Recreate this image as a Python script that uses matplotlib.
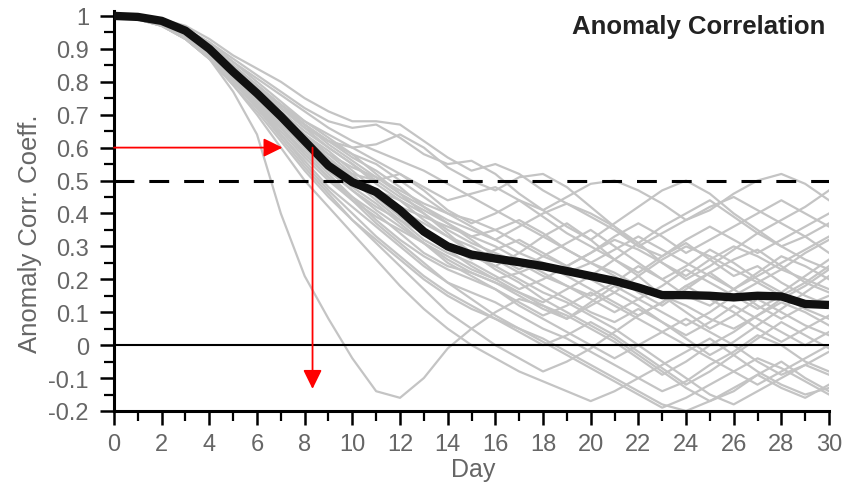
import numpy as np
import matplotlib.pyplot as plt

plt.rcParams['font.family'] = ['Liberation Sans', 'DejaVu Sans']

days = list(range(31))

# ensemble-mean anomaly correlation (thick black curve)
mean_acc = [1.00, 0.997, 0.985, 0.955, 0.90, 0.83, 0.765, 0.695, 0.62, 0.545,
            0.495, 0.465, 0.41, 0.345, 0.30, 0.275, 0.263, 0.252, 0.24, 0.225,
            0.21, 0.195, 0.175, 0.152, 0.152, 0.15, 0.145, 0.15, 0.148, 0.125,
            0.122]

# individual forecasts (thin grey curves)
member_acc = [
    [1.00, 1.00, 0.99, 0.97, 0.93, 0.88, 0.84, 0.80, 0.75, 0.71, 0.68, 0.68, 0.67, 0.62, 0.57, 0.53,
     0.55, 0.52, 0.47, 0.43, 0.40, 0.36, 0.30, 0.27, 0.31, 0.26, 0.21, 0.24, 0.19, 0.15, 0.12],
    [1.00, 1.00, 0.99, 0.96, 0.92, 0.87, 0.82, 0.77, 0.72, 0.68, 0.66, 0.67, 0.63, 0.58, 0.55, 0.56,
     0.52, 0.46, 0.41, 0.45, 0.49, 0.50, 0.47, 0.43, 0.38, 0.41, 0.46, 0.50, 0.52, 0.49, 0.44],
    [1.00, 0.99, 0.98, 0.95, 0.90, 0.84, 0.78, 0.72, 0.66, 0.62, 0.60, 0.61, 0.64, 0.60, 0.54, 0.50,
     0.47, 0.51, 0.52, 0.48, 0.42, 0.36, 0.31, 0.25, 0.20, 0.24, 0.29, 0.34, 0.38, 0.42, 0.47],
    [1.00, 0.99, 0.98, 0.95, 0.90, 0.84, 0.77, 0.70, 0.63, 0.56, 0.52, 0.50, 0.52, 0.47, 0.41, 0.37,
     0.40, 0.44, 0.41, 0.36, 0.32, 0.37, 0.42, 0.47, 0.50, 0.46, 0.40, 0.35, 0.30, 0.33, 0.28],
    [1.00, 0.99, 0.98, 0.95, 0.90, 0.83, 0.76, 0.69, 0.62, 0.56, 0.50, 0.46, 0.42, 0.39, 0.36, 0.33,
     0.30, 0.26, 0.22, 0.18, 0.15, 0.19, 0.24, 0.20, 0.15, 0.12, 0.17, 0.22, 0.27, 0.24, 0.20],
    [1.00, 0.99, 0.98, 0.95, 0.89, 0.82, 0.75, 0.68, 0.60, 0.53, 0.47, 0.42, 0.38, 0.34, 0.30, 0.27,
     0.24, 0.28, 0.33, 0.37, 0.32, 0.26, 0.21, 0.15, 0.10, 0.05, 0.09, 0.14, 0.10, 0.06, 0.03],
    [1.00, 0.99, 0.98, 0.94, 0.89, 0.82, 0.74, 0.66, 0.58, 0.51, 0.45, 0.40, 0.34, 0.28, 0.24, 0.22,
     0.19, 0.15, 0.11, 0.08, 0.12, 0.16, 0.12, 0.07, 0.02, -0.03, 0.01, 0.06, 0.11, 0.16, 0.21],
    [1.00, 0.99, 0.98, 0.94, 0.88, 0.81, 0.73, 0.64, 0.56, 0.48, 0.42, 0.36, 0.30, 0.24, 0.19, 0.16,
     0.13, 0.09, 0.05, 0.02, -0.02, -0.06, -0.10, -0.14, -0.11, -0.06, -0.02, 0.03, 0.00, -0.05, -0.08],
    [1.00, 0.99, 0.97, 0.94, 0.88, 0.80, 0.72, 0.63, 0.54, 0.46, 0.38, 0.31, 0.24, 0.17, 0.10, 0.05,
     0.00, -0.04, -0.08, -0.05, -0.01, 0.04, 0.09, 0.13, 0.18, 0.22, 0.17, 0.12, 0.08, 0.12, 0.15],
    [1.00, 0.99, 0.97, 0.93, 0.87, 0.79, 0.70, 0.60, 0.50, 0.42, 0.34, 0.26, 0.18, 0.11, 0.05, 0.00,
     -0.04, -0.08, -0.11, -0.14, -0.17, -0.14, -0.10, -0.06, -0.02, 0.02, -0.03, -0.08, -0.12, -0.15, -0.13],
    [1.00, 0.99, 0.98, 0.95, 0.90, 0.84, 0.78, 0.72, 0.67, 0.62, 0.57, 0.53, 0.48, 0.42, 0.37, 0.33,
     0.35, 0.38, 0.34, 0.29, 0.25, 0.21, 0.16, 0.12, 0.17, 0.22, 0.26, 0.29, 0.24, 0.19, 0.16],
    [1.00, 1.00, 0.99, 0.96, 0.92, 0.86, 0.80, 0.74, 0.68, 0.63, 0.58, 0.52, 0.46, 0.40, 0.34, 0.28,
     0.23, 0.19, 0.14, 0.10, 0.06, 0.02, -0.03, -0.08, -0.13, -0.17, -0.14, -0.09, -0.05, -0.10, -0.14],
    [1.00, 0.99, 0.98, 0.95, 0.90, 0.83, 0.76, 0.69, 0.63, 0.58, 0.54, 0.51, 0.47, 0.43, 0.40, 0.38,
     0.35, 0.31, 0.27, 0.24, 0.28, 0.32, 0.29, 0.25, 0.21, 0.26, 0.30, 0.27, 0.23, 0.28, 0.32],
    [1.00, 0.99, 0.98, 0.94, 0.88, 0.81, 0.73, 0.65, 0.57, 0.50, 0.44, 0.39, 0.35, 0.31, 0.27, 0.23,
     0.20, 0.22, 0.25, 0.21, 0.17, 0.13, 0.09, 0.13, 0.18, 0.14, 0.10, 0.05, 0.01, 0.05, 0.09],
    [1.00, 0.99, 0.97, 0.93, 0.87, 0.79, 0.71, 0.62, 0.53, 0.45, 0.38, 0.32, 0.26, 0.20, 0.15, 0.11,
     0.08, 0.04, 0.00, 0.03, 0.07, 0.03, -0.02, -0.07, -0.12, -0.08, -0.03, 0.02, 0.07, 0.03, -0.01],
    [1.00, 0.99, 0.98, 0.95, 0.90, 0.84, 0.77, 0.71, 0.65, 0.60, 0.55, 0.49, 0.44, 0.38, 0.33, 0.28,
     0.24, 0.20, 0.16, 0.13, 0.09, 0.05, 0.00, -0.05, -0.10, -0.15, -0.18, -0.14, -0.10, -0.06, -0.09],
    [1.00, 0.99, 0.98, 0.95, 0.90, 0.84, 0.77, 0.70, 0.64, 0.59, 0.53, 0.47, 0.41, 0.35, 0.29, 0.24,
     0.20, 0.16, 0.13, 0.17, 0.21, 0.26, 0.31, 0.36, 0.40, 0.44, 0.39, 0.34, 0.30, 0.26, 0.23],
    [1.00, 0.99, 0.98, 0.94, 0.89, 0.82, 0.74, 0.66, 0.58, 0.51, 0.44, 0.37, 0.31, 0.25, 0.19, 0.14,
     0.09, 0.05, 0.01, -0.03, -0.07, -0.11, -0.15, -0.19, -0.16, -0.12, -0.08, -0.04, -0.07, -0.11, -0.15],
    [1.00, 0.99, 0.98, 0.95, 0.89, 0.83, 0.76, 0.69, 0.62, 0.56, 0.51, 0.47, 0.44, 0.40, 0.35, 0.31,
     0.28, 0.25, 0.21, 0.18, 0.14, 0.10, 0.14, 0.18, 0.23, 0.19, 0.15, 0.11, 0.15, 0.19, 0.24],
    [1.00, 1.00, 0.99, 0.96, 0.91, 0.86, 0.81, 0.76, 0.71, 0.66, 0.62, 0.59, 0.56, 0.53, 0.49, 0.45,
     0.41, 0.37, 0.33, 0.29, 0.25, 0.22, 0.18, 0.15, 0.12, 0.08, 0.05, 0.09, 0.14, 0.18, 0.23],
    [1.00, 0.99, 0.98, 0.95, 0.89, 0.82, 0.75, 0.67, 0.60, 0.53, 0.47, 0.41, 0.36, 0.31, 0.26, 0.22,
     0.19, 0.16, 0.12, 0.09, 0.05, 0.01, -0.04, -0.09, -0.05, 0.00, 0.04, 0.09, 0.13, 0.10, 0.06],
    [1.00, 0.99, 0.97, 0.93, 0.87, 0.80, 0.72, 0.64, 0.55, 0.47, 0.40, 0.33, 0.27, 0.21, 0.16, 0.12,
     0.08, 0.05, 0.02, -0.02, -0.06, -0.10, -0.14, -0.18, -0.20, -0.17, -0.13, -0.09, -0.13, -0.16, -0.12],
    [1.00, 0.99, 0.98, 0.95, 0.90, 0.85, 0.79, 0.73, 0.67, 0.61, 0.56, 0.51, 0.46, 0.42, 0.38, 0.35,
     0.32, 0.36, 0.40, 0.43, 0.39, 0.35, 0.30, 0.34, 0.38, 0.42, 0.45, 0.41, 0.37, 0.33, 0.37],
    [1.00, 0.99, 0.97, 0.93, 0.87, 0.77, 0.64, 0.40, 0.21, 0.08, -0.04, -0.14, -0.16, -0.10, -0.01, 0.05,
     0.10, 0.14, 0.12, 0.08, 0.13, 0.18, 0.14, 0.10, 0.06, 0.10, 0.15, 0.19, 0.23, 0.20, 0.17],
    [1.00, 0.99, 0.98, 0.95, 0.89, 0.83, 0.76, 0.70, 0.64, 0.58, 0.52, 0.45, 0.39, 0.34, 0.30, 0.26,
     0.29, 0.32, 0.28, 0.24, 0.20, 0.16, 0.21, 0.26, 0.30, 0.27, 0.23, 0.19, 0.15, 0.11, 0.08],
    [1.00, 0.99, 0.98, 0.94, 0.88, 0.82, 0.75, 0.68, 0.61, 0.55, 0.50, 0.44, 0.38, 0.32, 0.28, 0.25,
     0.21, 0.17, 0.20, 0.24, 0.28, 0.33, 0.37, 0.33, 0.28, 0.32, 0.36, 0.40, 0.44, 0.40, 0.36],
    [1.00, 0.99, 0.98, 0.95, 0.90, 0.84, 0.78, 0.72, 0.66, 0.60, 0.55, 0.50, 0.45, 0.41, 0.37, 0.32,
     0.27, 0.23, 0.27, 0.31, 0.35, 0.30, 0.25, 0.20, 0.24, 0.29, 0.25, 0.20, 0.16, 0.21, 0.26],
    [1.00, 0.99, 0.98, 0.95, 0.89, 0.83, 0.77, 0.70, 0.63, 0.57, 0.51, 0.46, 0.41, 0.37, 0.33, 0.30,
     0.26, 0.22, 0.18, 0.14, 0.10, 0.07, 0.11, 0.07, 0.03, 0.07, 0.12, 0.08, 0.04, 0.00, 0.04],
    [1.00, 0.99, 0.98, 0.95, 0.90, 0.84, 0.78, 0.73, 0.68, 0.64, 0.60, 0.56, 0.52, 0.48, 0.44, 0.46,
     0.48, 0.44, 0.39, 0.34, 0.30, 0.26, 0.22, 0.27, 0.32, 0.36, 0.32, 0.28, 0.32, 0.36, 0.40],
    [1.00, 0.99, 0.97, 0.94, 0.88, 0.81, 0.73, 0.66, 0.59, 0.52, 0.45, 0.38, 0.32, 0.27, 0.23, 0.20,
     0.17, 0.13, 0.09, 0.12, 0.16, 0.12, 0.08, 0.04, 0.00, -0.04, -0.08, -0.12, -0.08, -0.04, 0.00],
    [1.00, 1.00, 0.99, 0.96, 0.91, 0.85, 0.79, 0.73, 0.67, 0.62, 0.58, 0.55, 0.50, 0.45, 0.40, 0.36,
     0.32, 0.28, 0.25, 0.22, 0.25, 0.29, 0.33, 0.29, 0.25, 0.21, 0.17, 0.21, 0.25, 0.29, 0.33],
    [1.00, 0.99, 0.98, 0.94, 0.88, 0.81, 0.74, 0.67, 0.60, 0.54, 0.48, 0.43, 0.37, 0.31, 0.25, 0.21,
     0.17, 0.12, 0.08, 0.04, 0.00, -0.04, 0.00, 0.04, 0.08, 0.04, 0.00, -0.05, -0.09, -0.06, -0.02],
]

y_ticks = [-0.2, -0.1, 0, 0.1, 0.2, 0.3, 0.4, 0.5, 0.6, 0.7, 0.8, 0.9, 1.0]
y_tick_labels = ['-0.2', '-0.1', '0', '0.1', '0.2', '0.3', '0.4', '0.5', '0.6',
                 '0.7', '0.8', '0.9', '1']
x_ticks = list(range(0, 31, 2))

# red guide arrows: day where mean drops to 0.6
guide_level = 0.6
guide_day = 8.33
guide_arrow_end = 7.07
guide_bottom = -0.133

###############################################################################
fig = plt.figure(figsize=(8.59, 4.89), dpi=100)
ax = fig.add_axes([0.1327, 0.1575, 0.8324, 0.818])

for m in member_acc:
    ax.plot(days, m, color='#c4c4c4', lw=1.6, zorder=2)

ax.axhline(0.5, color='black', lw=2.2, ls=(0, (6.5, 4.9)), zorder=3)
ax.axhline(0, color='black', lw=1.5, zorder=3)

ax.plot(days, mean_acc, color='#111111', lw=6, solid_capstyle='butt', zorder=4)

arrow_style = '-|>,head_length=0.55,head_width=0.27'
ax.annotate('', xy=(guide_arrow_end, guide_level), xytext=(0, guide_level),
            arrowprops=dict(arrowstyle=arrow_style, color='red', lw=1.3,
                            mutation_scale=21, shrinkA=0, shrinkB=0), zorder=5)
ax.annotate('', xy=(guide_day, guide_bottom), xytext=(guide_day, guide_level),
            arrowprops=dict(arrowstyle=arrow_style, color='red', lw=1.3,
                            mutation_scale=21, shrinkA=0, shrinkB=0), zorder=5)

ax.set_xlim(0, 30)
ax.set_ylim(-0.2, 1.015)
ax.spines['top'].set_visible(False)
ax.spines['right'].set_visible(False)
ax.spines['left'].set_linewidth(2.2)
ax.spines['bottom'].set_linewidth(2.2)
ax.spines['bottom'].set_bounds(0, 30)

ax.set_xticks(x_ticks)
ax.set_xticks(range(31), minor=True)
ax.set_yticks(y_ticks)
ax.set_yticklabels(y_tick_labels)
ax.set_yticks(np.arange(-0.15, 1.0, 0.1), minor=True)

ax.tick_params(which='major', direction='out', length=10, width=1.8,
               labelsize=17, labelcolor='#666666')
ax.tick_params(which='minor', direction='out', length=7, width=1.6)
ax.tick_params(axis='x', which='major', pad=6)
ax.tick_params(axis='y', which='major', pad=8)

fig.text(0.035, 1 - 234 / 489, 'Anomaly Corr. Coeff.', rotation=90,
         ha='center', va='center', fontsize=18.5, color='#666666')
fig.text(473 / 859, 1 - 470 / 489, 'Day', ha='center', va='center',
         fontsize=18, color='#666666')
fig.text(825 / 859, 1 - 34 / 489, 'Anomaly Correlation', ha='right',
         va='baseline', fontsize=18.5, fontweight='bold', color='#222222')

fig.savefig('out.png', dpi=100)
